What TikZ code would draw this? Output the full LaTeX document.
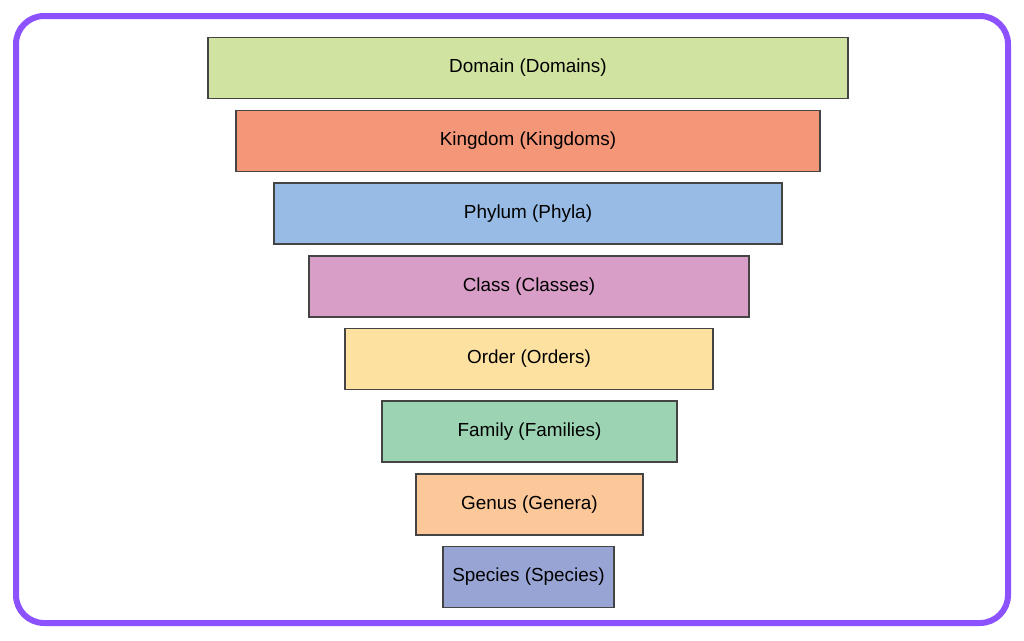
\documentclass[tikz,border=0pt]{standalone}
\usepackage{fontspec}
\setmainfont{Liberation Sans}
\definecolor{frame}{RGB}{140,82,255}
\definecolor{cDomain}{RGB}{209,227,160}
\definecolor{cKingdom}{RGB}{244,151,121}
\definecolor{cPhylum}{RGB}{151,187,228}
\definecolor{cClass}{RGB}{217,158,199}
\definecolor{cOrder}{RGB}{253,225,160}
\definecolor{cFamily}{RGB}{155,211,179}
\definecolor{cGenus}{RGB}{253,200,153}
\definecolor{cSpecies}{RGB}{152,165,212}
\definecolor{edge}{RGB}{68,68,68}
\begin{document}
\begin{tikzpicture}[x=1pt,y=-1pt,
  rank/.style={draw=edge,line width=1.8pt,minimum height=61pt,inner sep=0pt,
    font=\fontsize{18.9}{22}\selectfont,text=black}]
\useasboundingbox (0,0) rectangle (1024,640);
\fill[white] (0,0) rectangle (1024,640);
\draw[frame,line width=6pt,rounded corners=28pt] (16,16) rectangle (1008,623);
\node[rank,fill=cDomain,minimum width=640pt] (domain) at (528,68) {Domain (Domains)};
\node[rank,fill=cKingdom,minimum width=584pt] (kingdom) at (528,141) {Kingdom (Kingdoms)};
\node[rank,fill=cPhylum,minimum width=508pt] (phylum) at (528,213.5) {Phylum (Phyla)};
\node[rank,fill=cClass,minimum width=440pt] (class) at (529,286.5) {Class (Classes)};
\node[rank,fill=cOrder,minimum width=368pt] (order) at (529,359) {Order (Orders)};
\node[rank,fill=cFamily,minimum width=295pt] (family) at (529.5,431.5) {Family (Families)};
\node[rank,fill=cGenus,minimum width=227pt] (genus) at (529.5,504.5) {Genus (Genera)};
\node[rank,fill=cSpecies,minimum width=171pt] (species) at (528.5,577) {Species (Species)};
\end{tikzpicture}
\end{document}
